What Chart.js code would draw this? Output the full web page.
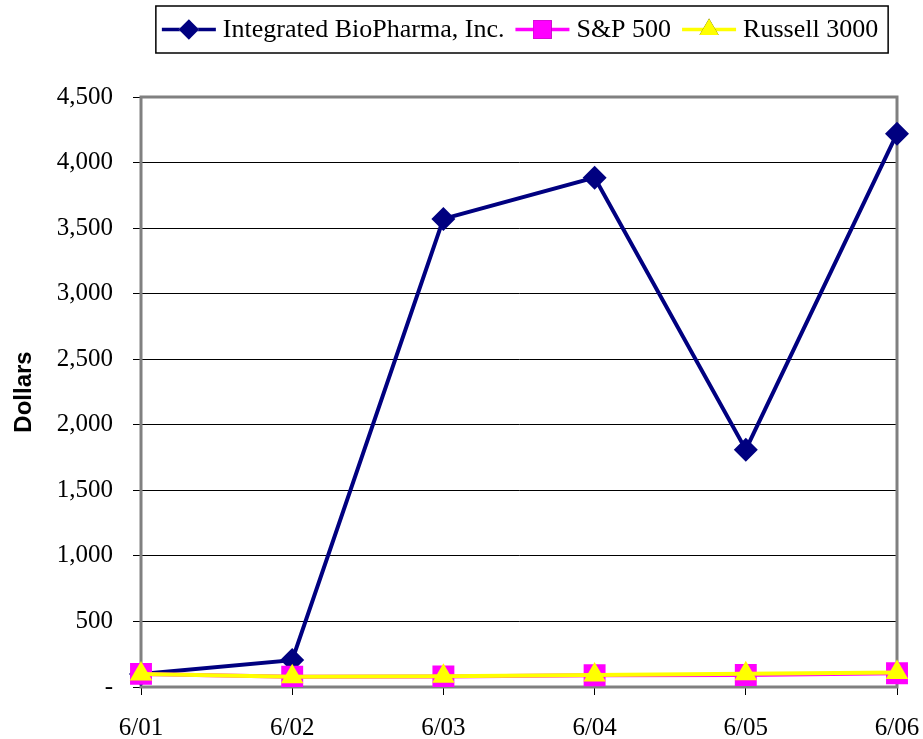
<!DOCTYPE html>
<html>
<head>
<meta charset="utf-8">
<script src="https://cdn.jsdelivr.net/npm/chart.js@4.4.1/dist/chart.umd.min.js"></script>
<style>
  html, body { margin: 0; padding: 0; background: #fff; }
  #wrap { width: 923px; height: 739px; }
</style>
</head>
<body>
<div id="wrap"><canvas id="c" width="923" height="739"></canvas></div>
<script>
// ── Data ──────────────────────────────────────────────────────────────
const labels = ["6/01", "6/02", "6/03", "6/04", "6/05", "6/06"];
const biopharma = [100, 205, 3570, 3885, 1810, 4220];
const sp500 = [100, 78, 80, 90, 92, 105];
const russell3000 = [100, 78, 82, 92, 102, 110];
const yTicks = [0, 500, 1000, 1500, 2000, 2500, 3000, 3500, 4000, 4500];

const FONT = "'Liberation Serif', 'Times New Roman', serif";

// Gray frame round the plot area, drawn under the markers.
const frame = {
  id: "frame",
  beforeDatasetsDraw(chart) {
    const { ctx, chartArea: a } = chart;
    ctx.save();
    ctx.strokeStyle = "#808080";
    ctx.lineWidth = 3;
    ctx.strokeRect(a.left, a.top, a.right - a.left, a.bottom - a.top);
    ctx.restore();
  },
};

// Excel-style legend: line + marker swatch, boxed, centred on top.
const boxLegend = {
  id: "boxLegend",
  afterDraw(chart) {
    const { ctx } = chart;
    const sets = chart.data.datasets;
    ctx.save();
    ctx.font = "26px " + FONT;
    const swatch = 54, gap = 7, between = 11;
    const widths = sets.map((d) => ctx.measureText(d.label).width);
    const inner = widths.reduce((s, w) => s + swatch + gap + w, 0) + between * (sets.length - 1);
    const boxW = inner + 16;
    const cx = 522, top = 6, h = 47;
    const left = cx - boxW / 2;
    ctx.fillStyle = "#fff";
    ctx.fillRect(left, top, boxW, h);
    ctx.strokeStyle = "#000";
    ctx.lineWidth = 1.5;
    ctx.strokeRect(left, top, boxW, h);
    const y = top + h / 2;
    let x = left + 6;
    sets.forEach((d, i) => {
      ctx.strokeStyle = d.borderColor;
      ctx.lineWidth = 3.5;
      ctx.beginPath();
      ctx.moveTo(x, y);
      ctx.lineTo(x + swatch, y);
      ctx.stroke();
      Chart.helpers.drawPoint(
        ctx,
        { pointStyle: d.pointStyle, radius: d.pointRadius * 0.85, borderWidth: 0 },
        x + swatch / 2,
        y
      );
      ctx.fillStyle = d.pointBackgroundColor;
      ctx.fill();
      x += swatch + gap;
      ctx.fillStyle = "#000";
      ctx.textBaseline = "middle";
      ctx.fillText(d.label, x, y + 1);
      x += widths[i] + between;
    });
    ctx.restore();
  },
};

new Chart(document.getElementById("c"), {
  type: "line",
  data: {
    labels,
    datasets: [
      {
        label: "Integrated BioPharma, Inc.",
        data: biopharma,
        borderColor: "#000080",
        backgroundColor: "#000080",
        pointBackgroundColor: "#000080",
        pointBorderColor: "#000080",
        pointStyle: "rectRot",
        pointRadius: 12,
        pointBorderWidth: 0,
        borderWidth: 4,
        tension: 0,
        order: 2,
      },
      {
        label: "S&P 500",
        data: sp500,
        borderColor: "#FF00FF",
        backgroundColor: "#FF00FF",
        pointBackgroundColor: "#FF00FF",
        pointBorderColor: "#FF00FF",
        pointStyle: "rect",
        pointRadius: 15.5,
        pointBorderWidth: 0,
        borderWidth: 4,
        tension: 0,
        order: 1,
      },
      {
        label: "Russell 3000",
        data: russell3000,
        borderColor: "#FFFF00",
        backgroundColor: "#FFFF00",
        pointBackgroundColor: "#FFFF00",
        pointBorderColor: "#FFFF00",
        pointStyle: "triangle",
        pointRadius: 13,
        pointBorderWidth: 0,
        borderWidth: 4,
        tension: 0,
        order: 0,
      },
    ],
  },
  options: {
    responsive: false,
    animation: false,
    devicePixelRatio: 1,
    layout: { padding: { top: 97, right: 26, left: 0, bottom: 0 } },
    plugins: { legend: { display: false }, tooltip: { enabled: false } },
    scales: {
      x: {
        offset: false,
        afterFit: (s) => { s.height = 52; s.paddingLeft = 0; s.paddingRight = 0; },
        grid: { display: true, drawOnChartArea: false, color: "#000", tickLength: 8 },
        border: { color: "#000", width: 1.5 },
        ticks: { color: "#000", font: { family: FONT, size: 25 }, padding: 18, maxRotation: 0 },
      },
      y: {
        min: 0,
        max: 4500,
        afterFit: (s) => { s.width = 141; s.paddingTop = 0; s.paddingBottom = 0; },
        afterBuildTicks: (s) => { s.ticks = yTicks.map((v) => ({ value: v })); },
        grid: { color: "#000", lineWidth: 1, tickLength: 8 },
        border: { color: "#000", width: 1.5 },
        ticks: {
          color: "#000",
          font: { family: FONT, size: 25 },
          padding: 20,
          callback: (v) => (v === 0 ? "-" : v.toLocaleString("en-US")),
        },
        title: {
          display: true,
          text: "Dollars",
          color: "#000",
          font: { family: "'Liberation Sans', Arial, sans-serif", size: 24, weight: "bold" },
          padding: { top: 10, bottom: 0 },
        },
      },
    },
  },
  plugins: [frame, boxLegend],
});
</script>
</body>
</html>
